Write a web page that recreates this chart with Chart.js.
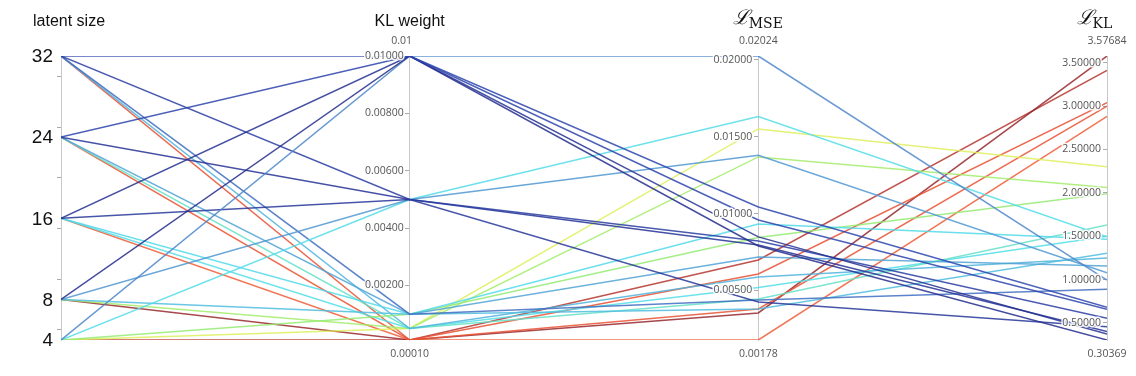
<!DOCTYPE html>
<html>
<head>
<meta charset="utf-8">
<script src="https://cdn.jsdelivr.net/npm/chart.js@4.4.1/dist/chart.umd.min.js"></script>
<style>
  html,body{margin:0;padding:0;background:#fff}
  #wrap{width:1136px;height:376px;position:relative}
</style>
</head>
<body>
<div id="wrap"><canvas id="chart"></canvas></div>
<script>
// one run per entry: latent size / KL weight / reconstruction loss / KL loss
const latentSize = [32,24,16,8,4, 32,24,16,8,4, 32,24,16,8,4, 32,24,16,8,4, 32,24,16,8,4];
const klWeight   = [0.01,0.01,0.01,0.01,0.01, 0.005,0.005,0.005,0.005,0.005,
                    0.001,0.001,0.001,0.001,0.001, 0.0005,0.0005,0.0005,0.0005,0.0005,
                    0.0001,0.0001,0.0001,0.0001,0.0001];
const mseLoss    = [0.01043,0.00958,0.00848,0.00789,0.02024,
                    0.00822,0.00795,0.00425,0.01379,0.01630,
                    0.00438,0.00718,0.00932,0.00380,0.00844,
                    0.00588,0.00445,0.00520,0.01368,0.01550,
                    0.00607,0.00380,0.00178,0.00354,0.00698];
const klLoss     = [0.680,0.657,0.373,0.30369,0.995,
                    0.554,0.400,0.457,1.079,1.494,
                    0.888,1.156,1.464,1.303,1.990,
                    1.250,1.630,1.500,2.060,2.300,
                    3.040,3.000,2.880,3.57684,3.410];

const latentLabels = [4,8,16,24,32];
const latentMinor  = [5,10,15,20,25,30];
const weightTicks  = [0.002,0.004,0.006,0.008,0.01];
const mseTicks     = [0.005,0.01,0.015,0.02];
const klTicks      = [0.5,1,1.5,2,2.5,3,3.5];

const dims = [latentSize, klWeight, mseLoss, klLoss];
const lo = dims.map(d => Math.min(...d));
const hi = dims.map(d => Math.max(...d));
const norm = (v, k) => (v - lo[k]) / (hi[k] - lo[k]);

// muted jet-like colour map on the KL loss
const stops = [
  [0.00, [35,45,140]],
  [0.12, [45,70,175]],
  [0.22, [80,140,205]],
  [0.36, [80,220,235]],
  [0.52, [150,235,110]],
  [0.62, [230,240,90]],
  [0.78, [240,95,55]],
  [0.88, [225,70,50]],
  [1.00, [150,40,45]]
];
function cmap(v){
  const t = (v - lo[3]) / (hi[3] - lo[3]);
  let i = 0;
  while (i < stops.length - 2 && t > stops[i+1][0]) i++;
  const [t0, c0] = stops[i], [t1, c1] = stops[i+1];
  const f = Math.max(0, Math.min(1, (t - t0) / (t1 - t0)));
  const c = c0.map((x, j) => Math.round(x + (c1[j] - x) * f));
  return `rgba(${c[0]},${c[1]},${c[2]},0.85)`;
}

const datasets = latentSize.map((_, i) => ({
  data: [0,1,2,3].map(k => ({x:k, y:norm(dims[k][i], k)})),
  borderColor: cmap(klLoss[i]),
  borderWidth: 1.5,
  pointRadius: 0,
  fill: false,
  tension: 0
}));

const noPad = s => { s.paddingTop = 0; s.paddingBottom = 0; };

function axis(k, values, minorOnly){
  return {
    type:'linear', axis:'y', position:{x:k}, min:lo[k], max:hi[k], z:1,
    border:{color:'#c8c8c8', width:1},
    grid:{drawOnChartArea:false, tickLength:4,
      tickColor: c => (minorOnly && !minorOnly.includes(c.tick.value)) ? 'rgba(0,0,0,0)' : '#aaa'},
    afterBuildTicks: s => { s.ticks = values.map(v => ({value:v})); },
    afterFit: noPad,
    ticks:{callback: () => ''}
  };
}

const scales = {
  x:{type:'linear', min:0, max:3, display:false},
  y:{type:'linear', min:0, max:1, display:false},
  yLatent: axis(0, latentLabels.concat(latentMinor).sort((a,b)=>a-b), latentMinor),
  yWeight: axis(1, weightTicks),
  yMse: axis(2, mseTicks),
  yKl: axis(3, klTicks)
};

const axisText = {
  id:'axisText',
  afterDraw(chart){
    const ctx = chart.ctx, a = chart.chartArea, xs = chart.scales.x;
    ctx.save();
    ctx.textBaseline = 'middle';
    ctx.lineJoin = 'round';

    // tick labels
    ctx.textAlign = 'right';
    ctx.fillStyle = '#111';
    ctx.font = "19px 'Liberation Sans',Arial,sans-serif";
    const sl = chart.scales.yLatent;
    latentLabels.forEach(v => ctx.fillText(String(v), xs.getPixelForValue(0) - 8, sl.getPixelForValue(v) + 1));

    ctx.font = "10.5px 'Open Sans','Noto Sans',sans-serif";
    [['yWeight',1,weightTicks],['yMse',2,mseTicks],['yKl',3,klTicks]].forEach(([id,k,vals]) => {
      const s = chart.scales[id], px = xs.getPixelForValue(k) - 6;
      vals.forEach(v => {
        const py = s.getPixelForValue(v), txt = v.toFixed(5);
        ctx.strokeStyle = 'rgba(255,255,255,0.9)'; ctx.lineWidth = 3;
        ctx.strokeText(txt, px, py);
        ctx.fillStyle = '#555';
        ctx.fillText(txt, px, py);
      });
    });

    // range labels above and below each axis
    ctx.fillStyle = '#555';
    ctx.textAlign = 'center';
    for (let k = 1; k < 4; k++){
      const px = xs.getPixelForValue(k);
      const top = k === 1 ? String(hi[k]) : hi[k].toFixed(5);
      ctx.fillText(top, k === 1 ? px - 8 : px, a.top - 15);
      ctx.fillText(lo[k].toFixed(5), px, a.bottom + 14);
    }

    // titles
    ctx.fillStyle = '#111';
    ctx.textBaseline = 'alphabetic';
    ctx.font = "16px 'Liberation Sans',Arial,sans-serif";
    ctx.textAlign = 'left';
    ctx.fillText('latent size', 33, 26);
    ctx.textAlign = 'center';
    ctx.fillText('KL weight', xs.getPixelForValue(1), 26);
    const lossTitle = (sub, cx) => {
      ctx.font = "italic 20px 'DejaVu Serif',serif";
      const w1 = ctx.measureText('\u2112').width;
      ctx.font = "14px 'DejaVu Serif','Liberation Serif',serif";
      const w2 = ctx.measureText(sub).width;
      const x0 = cx - (w1 + w2) / 2;
      ctx.textAlign = 'left';
      ctx.font = "italic 20px 'DejaVu Serif',serif";
      ctx.fillText('\u2112', x0, 24);
      ctx.font = "14px 'DejaVu Serif','Liberation Serif',serif";
      ctx.fillText(sub, x0 + w1 - 1, 28);
    };
    lossTitle('MSE', xs.getPixelForValue(2));
    lossTitle('KL', Math.min(xs.getPixelForValue(3), 1095));
    ctx.restore();
  }
};

new Chart(document.getElementById('chart'), {
  type:'line',
  data:{datasets},
  options:{
    responsive:true, maintainAspectRatio:false, animation:false,
    layout:{padding:{left:61, right:29, top:56, bottom:36}},
    plugins:{legend:{display:false}, tooltip:{enabled:false}},
    scales
  },
  plugins:[axisText]
});
</script>
</body>
</html>
